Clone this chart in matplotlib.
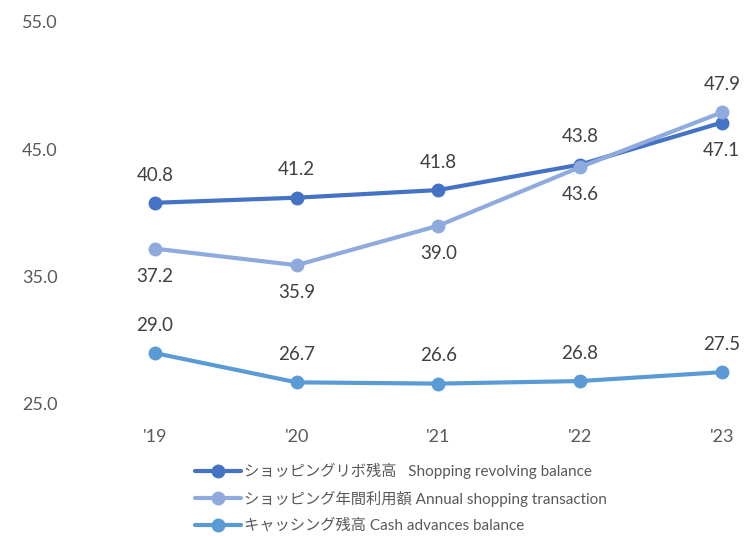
import matplotlib
matplotlib.use('Agg')
import matplotlib.pyplot as plt

plt.rcParams['font.family'] = ['Lato', 'Noto Sans CJK JP', 'DejaVu Sans']

# データ
years = ["'19", "'20", "'21", "'22", "'23"]
revolving = [40.8, 41.2, 41.8, 43.8, 47.1]
annual = [37.2, 35.9, 39.0, 43.6, 47.9]
cash = [29.0, 26.7, 26.6, 26.8, 27.5]

names = ['ショッピングリボ残高   Shopping revolving balance',
         'ショッピング年間利用額 Annual shopping transaction',
         'キャッシング残高 Cash advances balance']
colors = ['#4472C4', '#8FAADC', '#5B9BD5']

# ラベル位置 (上 = 1, 下 = -1)
pos_rev = [1, 1, 1, 1, -1]
pos_ann = [-1, -1, -1, -1, 1]
pos_cash = [1, 1, 1, 1, 1]

fig = plt.figure(figsize=(7.47, 5.36), dpi=100)
ax = fig.add_axes([0.1124, 0.2463, 0.878, 0.7127])

x = list(range(len(years)))
for vals, pos, c, name in zip([revolving, annual, cash], [pos_rev, pos_ann, pos_cash], colors, names):
    ax.plot(x, vals, color=c, lw=3, marker='o', ms=9, label=name, solid_capstyle='round')
    for xi, v, p in zip(x, vals, pos):
        ax.annotate(f'{v:.1f}', (xi, v), xytext=(0, 20 * p), textcoords='offset points',
                    ha='center', va='center', fontsize=13.5, color='#404040')

ax.set_xlim(-0.5, 4.127)
ax.set_ylim(25, 55)
ax.set_yticks([25, 35, 45, 55])
ax.set_yticklabels(['25.0', '35.0', '45.0', '55.0'])
ax.set_xticks(x)
ax.set_xticklabels(years)
ax.tick_params(axis='y', length=0, pad=19, labelsize=13, labelcolor='#595959')
ax.tick_params(axis='x', length=0, pad=18, labelsize=13, labelcolor='#595959')
for s in ax.spines.values():
    s.set_visible(False)

leg = fig.legend(loc='upper left', bbox_to_anchor=(195 / 747, 1 - 463 / 536), frameon=False,
                 fontsize=11, handlelength=3.0, handletextpad=0.2, labelspacing=0.75,
                 borderaxespad=0, borderpad=0)
for t in leg.get_texts():
    t.set_color('#595959')

plt.savefig('out.png', dpi=100)
